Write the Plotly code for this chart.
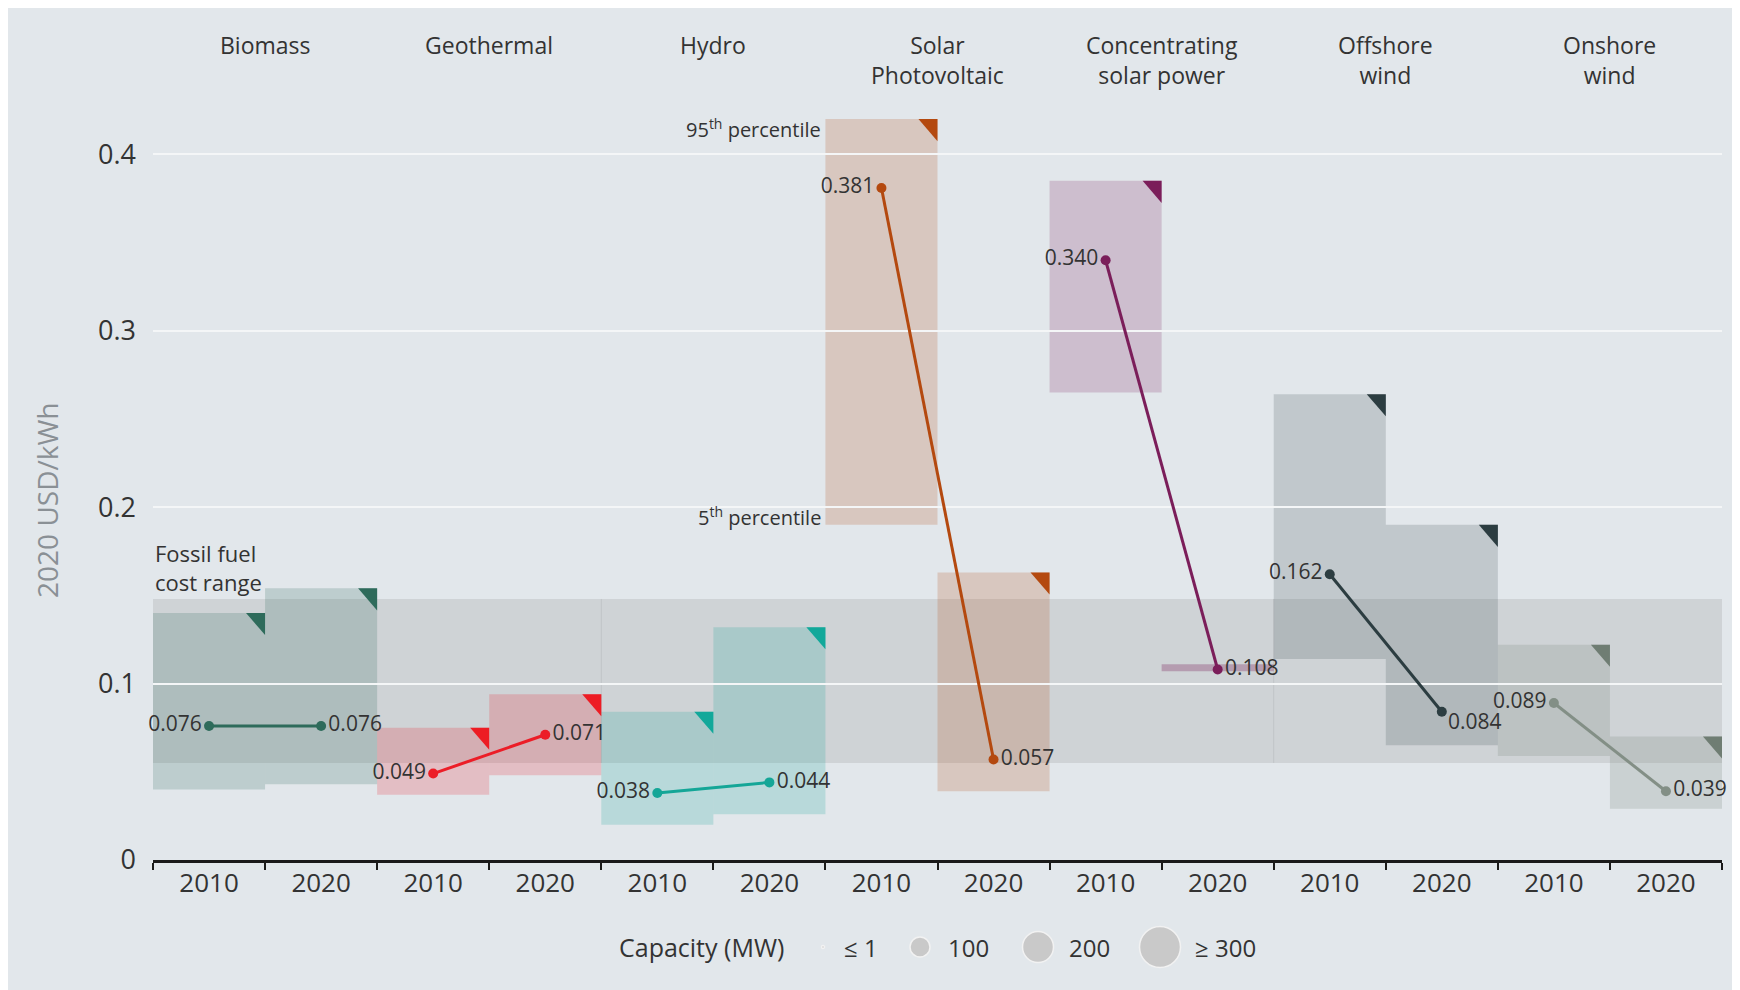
import plotly.graph_objects as go

# LCOE by technology, 2010 vs 2020 (2020 USD/kWh)
techs = ["Biomass", "Geothermal", "Hydro", "Solar<br>Photovoltaic",
         "Concentrating<br>solar power", "Offshore<br>wind", "Onshore<br>wind"]
years = ["2010", "2020"]
lcoe_2010 = [0.076, 0.049, 0.038, 0.381, 0.340, 0.162, 0.089]
lcoe_2020 = [0.076, 0.071, 0.044, 0.057, 0.108, 0.084, 0.039]
p5_2010 = [0.040, 0.037, 0.020, 0.190, 0.265, 0.114, 0.059]
p95_2010 = [0.140, 0.075, 0.084, 0.420, 0.385, 0.264, 0.122]
p5_2020 = [0.043, 0.048, 0.026, 0.039, 0.107, 0.065, 0.029]
p95_2020 = [0.154, 0.094, 0.132, 0.163, 0.111, 0.190, 0.070]
fossil_range = [0.055, 0.148]
capacity_labels = ["≤ 1", "100", "200", "≥ 300"]

line_colors = ["#2E6B5B", "#EC1D27", "#14A697", "#B4490F", "#7B1E5A", "#2C3D41", "#838F86"]
tri_colors = ["#2E6B5B", "#ED1C24", "#12A89A", "#B4490F", "#7B1E5A", "#2C3D41", "#6F7D73"]
box_alpha = [0.2, 0.2, 0.2, 0.2, 0.2, 0.18, 0.25]

BG = "#E2E7EB"
TXT = "#333333"
FONT = "Open Sans"


def rgba(hexc, a):
    h = hexc.lstrip("#")
    return "rgba(%d,%d,%d,%s)" % (int(h[0:2], 16), int(h[2:4], 16), int(h[4:6], 16), a)


fig = go.Figure()
shapes = []
annotations = []
n = 2 * len(techs)

# fossil fuel band
shapes.append(dict(type="rect", xref="x", yref="y", x0=0, x1=n,
                   y0=fossil_range[0], y1=fossil_range[1],
                   fillcolor="rgba(150,150,150,0.25)", line_width=0, layer="below"))
for xb in [4, 10]:
    shapes.append(dict(type="line", xref="x", yref="y", x0=xb, x1=xb,
                       y0=fossil_range[0], y1=fossil_range[1],
                       line=dict(color="rgba(0,0,0,0.07)", width=1), layer="below"))

tw, th = 0.17, 0.0125
for i, t in enumerate(techs):
    for j, (lo, hi) in enumerate([(p5_2010[i], p95_2010[i]), (p5_2020[i], p95_2020[i])]):
        x0 = 2 * i + j
        a = box_alpha[i] if hi - lo > 0.01 else 0.3
        shapes.append(dict(type="rect", xref="x", yref="y", x0=x0, x1=x0 + 1,
                           y0=lo, y1=hi, fillcolor=rgba(line_colors[i], a),
                           line_width=0, layer="below"))
        if hi - lo > 0.01:
            x1 = x0 + 1
            shapes.append(dict(type="path", xref="x", yref="y",
                               path=f"M {x1 - tw},{hi} L {x1},{hi} L {x1},{hi - th} Z",
                               fillcolor=tri_colors[i], line_width=0))

    labels = [f"{lcoe_2010[i]:.3f}", f"{lcoe_2020[i]:.3f}"]
    if i == 5:
        # offshore 2020 label sits a little below its dot
        annotations.append(dict(x=2 * i + 1.5, y=lcoe_2020[i], xref="x", yref="y",
                                xanchor="left", yanchor="middle", showarrow=False,
                                text=labels[1], xshift=4, yshift=-9,
                                font=dict(size=21, color=TXT)))
        labels[1] = ""
    fig.add_trace(go.Scatter(
        x=[2 * i + 0.5, 2 * i + 1.5], y=[lcoe_2010[i], lcoe_2020[i]],
        mode="lines+markers+text",
        line=dict(color=line_colors[i], width=3),
        marker=dict(color=line_colors[i], size=10),
        text=labels,
        textposition=["middle left", "middle right"],
        textfont=dict(size=21, color=TXT, family=FONT),
        cliponaxis=False, showlegend=False, hoverinfo="skip"))

    annotations.append(dict(x=2 * i + 1, y=1.096, xref="x", yref="paper",
                            text=t, showarrow=False, yanchor="top",
                            font=dict(size=23, color=TXT)))

# percentile notes
annotations.append(dict(x=6, y=p95_2010[3], xref="x", yref="y", xanchor="right",
                        yanchor="middle", showarrow=False, text="95<sup>th</sup> percentile",
                        font=dict(size=20, color=TXT), xshift=-2, yshift=-9))
annotations.append(dict(x=6, y=p5_2010[3], xref="x", yref="y", xanchor="right",
                        yanchor="middle", showarrow=False, text="5<sup>th</sup> percentile",
                        font=dict(size=20, color=TXT), xshift=-2, yshift=8))
annotations.append(dict(x=0, y=fossil_range[1], xref="x", yref="y", xanchor="left",
                        yanchor="bottom", showarrow=False, align="left",
                        text="Fossil fuel<br>cost range", font=dict(size=22, color=TXT)))

# y-axis title
annotations.append(dict(x=-0.0676, y=0.4737, xref="paper", yref="paper",
                        xanchor="center", yanchor="middle",
                        text="2020 USD/kWh", textangle=-90, showarrow=False,
                        font=dict(size=28, color="#8A9095")))

# capacity legend
leg_y = -0.1145
annotations.append(dict(x=(701 - 153) / 1569, y=leg_y, xref="paper", yref="paper",
                        xanchor="center", yanchor="middle",
                        text="Capacity (MW)", showarrow=False,
                        font=dict(size=25, color=TXT)))
leg_cx = [823, 920, 1038, 1160]
leg_d = [3, 20, 31, 41]
leg_tx = [861, 968, 1089, 1225]
for cx, d, tx, lab in zip(leg_cx, leg_d, leg_tx, capacity_labels):
    xp = (cx - 153) / 1569
    shapes.append(dict(type="circle", xref="paper", yref="paper",
                       xsizemode="pixel", ysizemode="pixel",
                       xanchor=xp, yanchor=leg_y,
                       x0=-d / 2, x1=d / 2, y0=-d / 2, y1=d / 2,
                       fillcolor="#C9C9C9", line=dict(color="#F2F2F2", width=1.5)))
    annotations.append(dict(x=(tx - 153) / 1569, y=leg_y, xref="paper", yref="paper",
                            xanchor="center", yanchor="middle",
                            text=lab, showarrow=False, font=dict(size=24, color=TXT)))

centers = [k + 0.5 for k in range(n)]
fig.update_layout(
    width=1740, height=990,
    margin=dict(l=145, r=26, t=92, b=138),
    paper_bgcolor=BG, plot_bgcolor="rgba(0,0,0,0)",
    font=dict(family=FONT, color=TXT),
    shapes=shapes, annotations=annotations,
    xaxis=dict(range=[0, n], tickvals=centers,
               ticktext=years * len(techs), ticks="", showgrid=False, zeroline=False,
               showline=True, linecolor="#1A1A1A", linewidth=3,
               tickfont=dict(size=26, color=TXT), ticklabelstandoff=-2,
               minor=dict(ticks="outside", tick0=0, dtick=1, ticklen=7,
                          tickwidth=2, tickcolor="#1A1A1A", showgrid=False)),
    yaxis=dict(range=[0, 760 / 1764], tickvals=[0, 0.1, 0.2, 0.3, 0.4],
               ticktext=["0", "0.1", "0.2", "0.3", "0.4"],
               showgrid=True, gridcolor="#F4F6F7", gridwidth=2, zeroline=False,
               showline=False, ticks="", ticklabelstandoff=16,
               tickfont=dict(size=27, color=TXT)),
)

fig.write_html("out.html")
